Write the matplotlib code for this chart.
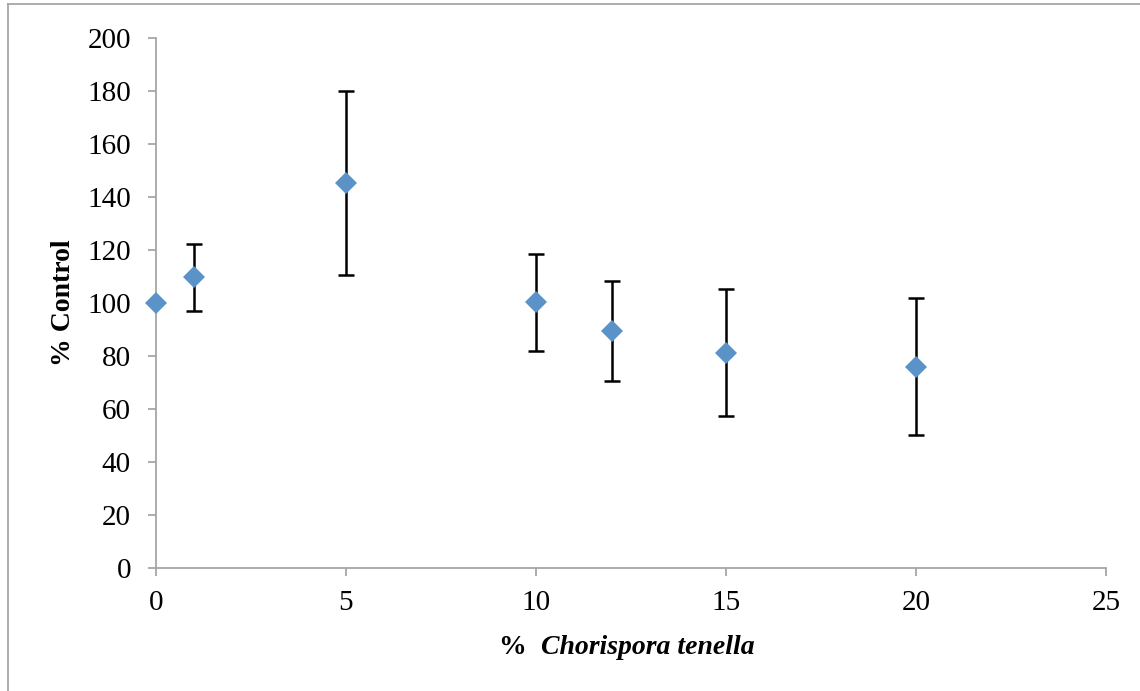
import matplotlib
matplotlib.use("Agg")
import matplotlib.pyplot as plt
from matplotlib.lines import Line2D

# Data
concentration = [0, 1, 5, 10, 12, 15, 20]
pct_control = [100.0, 109.7, 145.3, 100.2, 89.4, 81.3, 76.0]
error = [0.0, 12.6, 34.8, 18.3, 19.0, 23.9, 25.8]
x_ticks = [0, 5, 10, 15, 20, 25]
y_ticks = [0, 20, 40, 60, 80, 100, 120, 140, 160, 180, 200]

plt.rcParams['font.family'] = ['Liberation Serif', 'DejaVu Serif']

W, H = 1140, 691
fig = plt.figure(figsize=(W / 100, H / 100), dpi=100)
ax = fig.add_axes([156 / W, 1 - 568 / H, (1106 - 156) / W, (568 - 38) / H])

grey = '#a6a6a6'
blue = '#5b93c9'

# error bars (only where error > 0)
ex = [c for c, e in zip(concentration, error) if e > 0]
ey = [v for v, e in zip(pct_control, error) if e > 0]
ee = [e for e in error if e > 0]
ax.errorbar(ex, ey, yerr=ee, fmt='none', ecolor='black', elinewidth=1.8,
            capsize=5.8, capthick=1.8, zorder=2, clip_on=False)
ax.plot(concentration, pct_control, linestyle='none', marker='D', markersize=11,
        markerfacecolor=blue, markeredgewidth=0, zorder=3, clip_on=False)

ax.set_xlim(0, 25)
ax.set_ylim(0, 200)
ax.set_xticks(x_ticks)
ax.set_yticks(y_ticks)
ax.set_xticklabels([str(t) for t in x_ticks])
ax.set_yticklabels([str(t) for t in y_ticks])

for s in ['top', 'right']:
    ax.spines[s].set_visible(False)
for s in ['left', 'bottom']:
    ax.spines[s].set_color(grey)
    ax.spines[s].set_linewidth(1.3)

ax.tick_params(axis='both', direction='out', length=6, width=1.3, color=grey,
               labelsize=21, labelcolor='black')
ax.tick_params(axis='y', pad=12)
ax.tick_params(axis='x', pad=10)

# axis labels
fig.text(63 / W, 1 - 303 / H, '% Control', rotation=90, ha='center', va='center',
         fontsize=20, fontweight='bold')
t1 = fig.text(499 / W, 1 - 644 / H, '%  ', ha='left', va='center_baseline',
              fontsize=20, fontweight='bold')
ax.annotate('Chorispora tenella', xy=(1, 0), xycoords=t1, ha='left', va='bottom',
            fontsize=20, fontweight='bold', fontstyle='italic')

# outer frame (left and top edges visible)
fig.add_artist(Line2D([7.5 / W, 7.5 / W], [0, 1 - 3.5 / H], transform=fig.transFigure,
                      color=grey, linewidth=1.3))
fig.add_artist(Line2D([7.5 / W, 1], [1 - 3.5 / H, 1 - 3.5 / H], transform=fig.transFigure,
                      color=grey, linewidth=1.3))

fig.savefig('out.png', dpi=100)
